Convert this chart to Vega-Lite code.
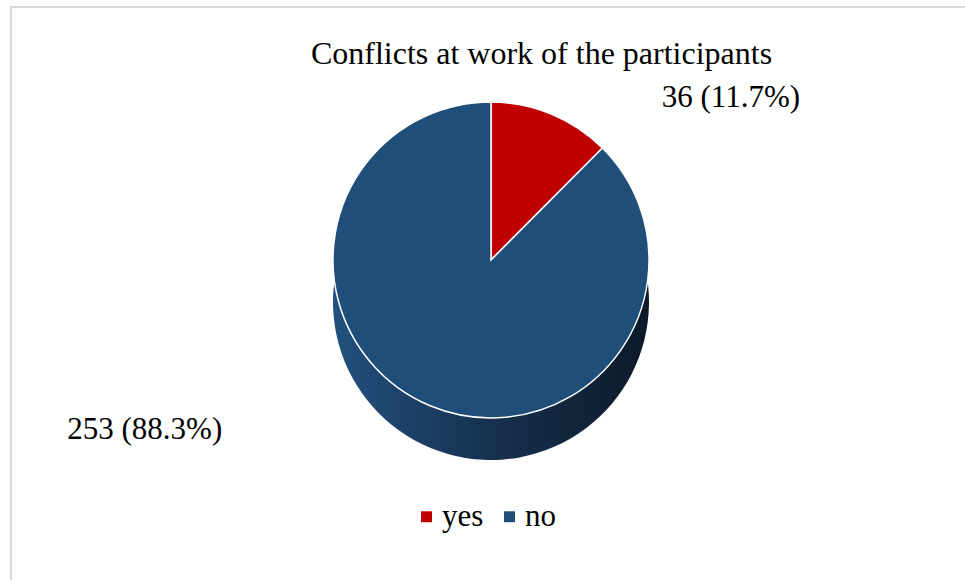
{
  "$schema": "https://vega.github.io/schema/vega-lite/v6.json",
  "autosize": "none",
  "width": 955,
  "height": 574,
  "padding": {"left": 11, "top": 7, "right": 0, "bottom": 0},
  "background": "white",
  "view": {"stroke": "#d9d9d9", "strokeWidth": 2, "fill": "white"},
  "config": {
    "view": {"stroke": "#d9d9d9", "strokeWidth": 2},
    "font": "Liberation Serif"
  },
  "title": {
    "text": "Conflicts at work of the participants",
    "font": "Liberation Serif",
    "fontSize": 32,
    "fontWeight": "normal",
    "color": "black",
    "anchor": "middle",
    "frame": "group",
    "baseline": "alphabetic",
    "offset": -56,
    "dx": 53,
    "dy": 33
  },
  "data": {
    "values": [
      {"answer": "yes", "count": 36, "label": "36 (11.7%)"},
      {"answer": "no", "count": 253, "label": "253 (88.3%)"}
    ]
  },
  "layer": [
    {
      "mark": {
        "type": "arc",
        "radius": 158,
        "xOffset": 2.5,
        "yOffset": 8,
        "color": {
          "gradient": "linear",
          "x1": 0, "y1": 0, "x2": 1, "y2": 0,
          "stops": [
            {"offset": 0, "color": "#22507e"},
            {"offset": 0.5, "color": "#16314f"},
            {"offset": 1, "color": "#0c1a2a"}
          ]
        }
      },
      "encoding": {
        "theta": {"field": "count", "type": "quantitative", "stack": true},
        "detail": {"field": "answer"},
        "order": {"field": "answer", "sort": "descending"}
      }
    },
    {
      "mark": {
        "type": "arc",
        "radius": 158,
        "xOffset": 2.5,
        "yOffset": -34,
        "stroke": "white",
        "strokeWidth": 1.5
      },
      "encoding": {
        "theta": {"field": "count", "type": "quantitative", "stack": true},
        "color": {
          "field": "answer",
          "type": "nominal",
          "scale": {"domain": ["yes", "no"], "range": ["#C00000", "#1F4E79"]},
          "legend": {
            "orient": "none",
            "legendX": 400,
            "legendY": 494,
            "direction": "horizontal",
            "title": null,
            "symbolType": "square",
            "symbolSize": 120,
            "symbolStrokeWidth": 0,
            "labelFont": "Liberation Serif",
            "labelFontSize": 31,
            "labelColor": "black",
            "labelOffset": 0,
            "columnPadding": 10
          }
        },
        "order": {"field": "answer", "sort": "descending"}
      }
    },
    {
      "mark": {
        "type": "text",
        "radius": 175,
        "xOffset": 2.5,
        "yOffset": -32,
        "align": "left",
        "baseline": "middle",
        "dx": 104,
        "dy": -2,
        "font": "Liberation Serif",
        "fontSize": 31,
        "color": "black"
      },
      "encoding": {
        "theta": {"field": "count", "type": "quantitative", "stack": true},
        "detail": {"field": "answer"},
        "order": {"field": "answer", "sort": "descending"},
        "text": {"condition": {"test": "datum.answer === 'yes'", "field": "label"}, "value": ""}
      }
    },
    {
      "mark": {
        "type": "text",
        "radius": 175,
        "xOffset": 2.5,
        "yOffset": -32,
        "align": "right",
        "baseline": "middle",
        "dx": -202,
        "dy": 6,
        "font": "Liberation Serif",
        "fontSize": 31,
        "color": "black"
      },
      "encoding": {
        "theta": {"field": "count", "type": "quantitative", "stack": true},
        "detail": {"field": "answer"},
        "order": {"field": "answer", "sort": "descending"},
        "text": {"condition": {"test": "datum.answer === 'no'", "field": "label"}, "value": ""}
      }
    }
  ]
}
